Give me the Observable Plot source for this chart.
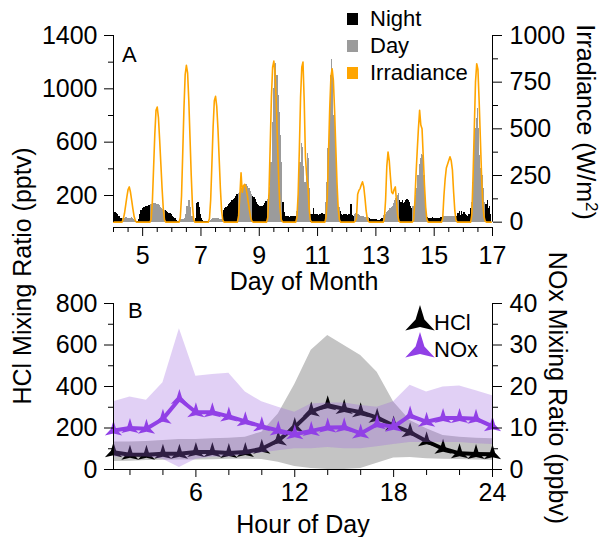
<!DOCTYPE html>
<html>
<head>
<meta charset="utf-8">
<script src="https://cdn.jsdelivr.net/npm/d3@7"></script>
<script src="https://cdn.jsdelivr.net/npm/@observablehq/plot@0.6"></script>
<style>
html, body { margin: 0; padding: 0; background: #fff; }
#chart { position: relative; width: 607px; height: 537px; overflow: hidden; background: #fff; }
#chart svg { position: absolute; left: 0; }
</style>
</head>
<body>
<div id="chart"></div>
<script>
// ---------------- Panel A data (hourly, starting day 4.0) ----------------
const startDay = 4;
const hclPptv = [
  70,72,70,66,60,45, 30,28,25,28,32,35, 30,28,30,32,28,22, 15,8,5,20,55,90,          // day 4
  100,108,112,116,120,124, 128,132,136,140,140,138, 135,130,122,112,104,96, 90,84,80,75,68,62, // day 5
  55,45,35,25,15,8, 3,15,22,18,20,30, 60,120,165,160,110,40, 20,10,30,140,150,110,    // day 6
  60,30,12,5,3,2, 2,8,15,22,27,30, 30,28,27,25,22,20, 40,90,100,110,120,130,          // day 7
  140,150,160,170,180,195, 205,215,225,240,255,270, 280,285,285,270,250,230, 205,190,185,170,150,135, // day 8
  125,118,115,118,125,140, 155,167,200,260,450,750, 1000,1180,1190,1100,950,820, 650,450,150,70,45,40, // day 9
  40,38,40,42,45,40, 45,80,150,250,450,590, 560,420,300,380,517,480, 250,60,60,100,60,55, // day 10
  55,50,55,60,65,60, 60,150,300,550,850,1100, 1220,1100,800,550,440,250, 110,80,55,50,55,60, // day 11
  55,50,55,60,130,50, 45,60,65,60,55,50, 45,42,40,38,36,35, 32,28,20,18,20,20,        // day 12
  20,18,15,15,20,25, 30,50,60,70,80,90, 100,110,120,140,160,180, 200,215,165,150,160,140, // day 13
  150,165,170,160,150,120, 100,120,150,200,250,350, 430,480,510,500,350,150, 60,35,30,28,30,35, // day 14
  30,30,30,28,30,30, 35,40,42,45,42,40, 40,42,45,45,42,40, 40,45,65,77,50,77,          // day 15
  60,70,55,50,45,60, 100,150,300,500,700,780, 850,700,500,400,350,250, 150,130,165,100,120,60 // day 16
];
const irradianceWm2 = [
  0,0,0,0,0,0, 0,0,15,45,90,135, 175,189,160,115,70,30, 8,0,0,0,0,0,        // day 4
  0,0,0,0,0,0, 0,15,110,290,470,600, 617,560,440,310,180,70, 12,0,0,0,0,0,  // day 5
  0,0,0,0,0,0, 0,25,140,370,610,790, 840,800,650,450,250,90, 15,0,0,0,0,0,  // day 6
  0,0,0,0,0,0, 0,20,120,310,510,650, 674,620,500,340,180,60, 10,0,0,0,0,0,  // day 7
  0,0,0,0,0,0, 0,35,140,264,160,195, 203,185,150,105,60,20, 5,0,0,0,0,0,    // day 8
  0,0,0,0,0,0, 0,25,160,410,670,830, 863,800,640,430,230,80, 15,3,0,0,0,0,  // day 9
  0,0,0,0,0,0, 0,25,150,390,670,830, 858,650,350,250,200,80, 12,0,0,0,0,0,  // day 10
  0,0,0,0,0,0, 0,25,140,370,610,780, 822,760,600,400,210,70, 12,0,0,0,0,0,  // day 11
  0,0,0,0,0,0, 0,5,20,150,170,180, 200,216,190,130,60,15, 3,0,0,0,0,0,      // day 12
  0,0,0,0,0,0, 0,20,120,300,376,330, 240,160,153,175,189,110, 35,5,0,0,0,0, // day 13
  0,0,0,0,0,0, 0,10,100,250,380,500, 599,520,500,350,200,80, 15,0,0,0,0,0,  // day 14
  0,0,0,0,0,0, 0,20,140,230,290,310, 330,350,330,280,160,60, 10,0,0,0,0,0,  // day 15
  0,0,0,0,0,0, 0,40,250,500,750,849, 820,650,450,250,100,30, 5,0,0,0,0,0    // day 16
];
const periodNames = ["Night", "Day"];
const dayTickLabels = [5, 7, 9, 11, 13, 15, 17];
const dayMinorTicks = [4, 4.5, 5.5, 6, 6.5, 7.5, 8, 8.5, 9.5, 10, 10.5, 11.5, 12, 12.5, 13.5, 14, 14.5, 15.5, 16, 16.5];
const hclTicksA = [200, 600, 1000, 1400];
const hclMinorA = [400, 800, 1200];
const irrTicks = [0, 250, 500, 750, 1000];
const irrMinor = [125, 375, 625, 875];

// ---------------- Panel B data (hour of day) ----------------
const hours = [1,2,3,4,5,6,7,8,9,10,11,12,13,14,15,16,17,18,19,20,21,22,23,24];
const hclMedian = [83,71,71,76,76,84,84,80,84,100,140,205,280,310,292,276,250,212,180,136,100,78,75,73];
const hclLow    = [39,40,43,45,46,46,47,50,50,48,35,15,5,0,0,5,30,55,58,52,50,48,46,45];
const hclHigh   = [132,132,135,140,145,145,148,151,156,180,268,410,575,646,598,550,469,325,236,196,164,156,151,148];
const noxMedian = [9.4,10.0,9.8,12.2,17.0,13.8,13.8,12.8,11.6,10.4,9.4,8.5,9.3,10.1,10.2,8.7,10.9,10.3,13.0,11.5,12.4,12.4,12.2,10.4];
const noxLow    = [3.0,3.0,3.0,2.5,0.5,2.5,3.0,3.0,3.5,4.0,4.5,5.0,5.0,5.3,5.0,5.0,5.5,6.0,6.5,6.5,6.5,6.5,6.2,6.0];
const noxHigh   = [16.3,17.5,16.7,20.9,33.9,22.5,22.9,23.2,18.7,16.3,15.0,13.8,15.8,16.0,16.0,15.4,15.0,16.3,20.3,18.7,19.9,20.1,19.0,17.8];
const hourTickLabels = [6, 12, 18, 24];
const hourMinorTicks = [2, 4, 8, 10, 14, 16, 20, 22];
const hclTicksB = [0, 200, 400, 600, 800];
const hclMinorB = [100, 300, 500, 700];
const noxTicks = [0, 10, 20, 30, 40];
const noxMinor = [5, 15, 25, 35];
const seriesNames = ["HCl", "NOx"];

// ---------------- styling ----------------
const FONT = '"Liberation Sans", Arial, Helvetica, sans-serif';
const COL = {night: "#000000", day: "#9b9b9b", irr: "#ffa500", band: "#c4c4c4", lav: "#9b62de", nox: "#9140e6"};
const IRR_TO_LEFT = 1400 / 1000;   // right axis (W/m2) -> left axis (pptv) units
const NOX_TO_LEFT = 800 / 40;      // right axis (ppbv) -> left axis (pptv) units
const plain = d => String(Math.round(d));

const star = {
  draw(ctx, size) {
    const R = Math.sqrt(size / Math.PI);
    const r = R * 0.3;
    const pts = [];
    for (let k = 0; k < 3; k++) {
      const a = -Math.PI / 2 + k * 2 * Math.PI / 3;
      const b = a + Math.PI / 3;
      pts.push([R * Math.cos(a), R * Math.sin(a)]);
      pts.push([r * Math.cos(b), r * Math.sin(b)]);
    }
    ctx.moveTo(pts[0][0], pts[0][1]);
    for (let k = 1; k < pts.length; k++) ctx.lineTo(pts[k][0], pts[k][1]);
    ctx.closePath();
  }
};

const baseStyle = {fontFamily: FONT, fontSize: "25px", color: "#000", background: "transparent", overflow: "visible"};

// ---------------- Panel A ----------------
const rowsA = hclPptv.map((v, i) => ({
  t: startDay + i / 24,
  hcl: v,
  irr: irradianceWm2[i],
  period: irradianceWm2[i] > 0 ? periodNames[1] : periodNames[0]
}));

const plotA = Plot.plot({
  width: 607, height: 290,
  marginTop: 35, marginBottom: 63, marginLeft: 113, marginRight: 115,
  x: {domain: [4, 17]},
  y: {domain: [-40, 1400]},
  color: {domain: periodNames, range: [COL.night, COL.day]},
  style: baseStyle,
  marks: [
    Plot.rect(rowsA, {x1: d => d.t - 1/48, x2: d => d.t + 1/48, y1: 0, y2: "hcl", fill: "period", clip: true, shapeRendering: "crispEdges"}),
    Plot.lineY(rowsA, {x: "t", y: d => d.irr * IRR_TO_LEFT, stroke: COL.irr, strokeWidth: 1.6, clip: true}),
    Plot.ruleX([4], {y1: 0, y2: 1400, stroke: "#000"}),
    Plot.ruleX([17], {y1: 0, y2: 1400, stroke: "#000"}),
    Plot.ruleY([-40], {x1: 4, x2: 17, stroke: "#000"}),
    Plot.axisY(hclTicksA, {anchor: "left", tickSize: 9, tickPadding: 7, fontSize: 25, tickFormat: plain, label: null}),
    Plot.axisY(hclMinorA, {anchor: "left", tickSize: 5, tickFormat: () => "", label: null}),
    Plot.axisY(irrTicks.map(v => v * IRR_TO_LEFT), {anchor: "right", tickSize: 9, tickPadding: 8, fontSize: 25, tickFormat: v => plain(v / IRR_TO_LEFT), label: null}),
    Plot.axisY(irrMinor.map(v => v * IRR_TO_LEFT), {anchor: "right", tickSize: 5, tickFormat: () => "", label: null}),
    Plot.axisX(dayTickLabels, {anchor: "bottom", tickSize: 9, tickPadding: 10, fontSize: 25, tickFormat: plain, label: null}),
    Plot.axisX(dayMinorTicks, {anchor: "bottom", tickSize: 5, tickFormat: () => "", label: null})
  ]
});

// ---------------- Panel B ----------------
const rowsB = hours.map((h, i) => ({
  h, hcl: hclMedian[i], hclLo: hclLow[i], hclHi: hclHigh[i],
  nox: noxMedian[i], noxLo: noxLow[i], noxHi: noxHigh[i]
}));

const plotB = Plot.plot({
  width: 607, height: 252,
  marginTop: 18, marginBottom: 68, marginLeft: 113, marginRight: 115,
  x: {domain: [1, 24]},
  y: {domain: [0, 800]},
  style: baseStyle,
  marks: [
    Plot.areaY(rowsB, {x: "h", y1: "hclLo", y2: "hclHi", fill: COL.band}),
    Plot.lineY(rowsB, {x: "h", y: "hcl", stroke: "#000", strokeWidth: 4, strokeLinejoin: "round"}),
    Plot.dot(rowsB, {x: "h", y: "hcl", symbol: star, r: 10, fill: "#000", stroke: "none"}),
    Plot.areaY(rowsB, {x: "h", y1: d => d.noxLo * NOX_TO_LEFT, y2: d => d.noxHi * NOX_TO_LEFT, fill: COL.lav, fillOpacity: 0.3}),
    Plot.lineY(rowsB, {x: "h", y: d => d.nox * NOX_TO_LEFT, stroke: COL.nox, strokeWidth: 4, strokeLinejoin: "round"}),
    Plot.dot(rowsB, {x: "h", y: d => d.nox * NOX_TO_LEFT, symbol: star, r: 10, fill: COL.nox, stroke: "none"}),
    Plot.ruleX([1], {y1: 0, y2: 800, stroke: "#000"}),
    Plot.ruleX([24], {y1: 0, y2: 800, stroke: "#000"}),
    Plot.ruleY([0], {x1: 1, x2: 24, stroke: "#000"}),
    Plot.axisY(hclTicksB, {anchor: "left", tickSize: 9, tickPadding: 7, fontSize: 25, tickFormat: plain, label: null}),
    Plot.axisY(hclMinorB, {anchor: "left", tickSize: 5, tickFormat: () => "", label: null}),
    Plot.axisY(noxTicks.map(v => v * NOX_TO_LEFT), {anchor: "right", tickSize: 9, tickPadding: 8, fontSize: 25, tickFormat: v => plain(v / NOX_TO_LEFT), label: null}),
    Plot.axisY(noxMinor.map(v => v * NOX_TO_LEFT), {anchor: "right", tickSize: 5, tickFormat: () => "", label: null}),
    Plot.axisX(hourTickLabels, {anchor: "bottom", tickSize: 8, tickPadding: 6, fontSize: 25, tickFormat: plain, label: null}),
    Plot.axisX(hourMinorTicks, {anchor: "bottom", tickSize: 6, tickFormat: () => "", label: null})
  ]
});

// ---------------- Titles, panel letters and legends ----------------
const ov = d3.create("svg").attr("width", 607).attr("height", 537)
  .style("font-family", FONT).style("top", "0px").style("pointer-events", "none");

ov.append("text").attr("x", 304).attr("y", 290).attr("text-anchor", "middle").attr("font-size", 25).text("Day of Month");
ov.append("text").attr("x", 303).attr("y", 533).attr("text-anchor", "middle").attr("font-size", 25).text("Hour of Day");
ov.append("text").attr("transform", "translate(31,276) rotate(-90)").attr("text-anchor", "middle").attr("font-size", 25).text("HCl Mixing Ratio (pptv)");
const irrTitle = ov.append("text").attr("transform", "translate(577,122) rotate(90)").attr("text-anchor", "middle").attr("font-size", 25);
irrTitle.append("tspan").text("Irradiance (W/m");
irrTitle.append("tspan").attr("font-size", 17).attr("dy", -9).text("2");
irrTitle.append("tspan").attr("dy", 9).text(")");
ov.append("text").attr("transform", "translate(549,388) rotate(90)").attr("text-anchor", "middle").attr("font-size", 25).text("NOx Mixing Ratio (ppbv)");

ov.append("text").attr("x", 122).attr("y", 62).attr("font-size", 22).text("A");
ov.append("text").attr("x", 128).attr("y", 318).attr("font-size", 22).text("B");

const legA = [
  {label: periodNames[0], color: COL.night, y: 13},
  {label: periodNames[1], color: COL.day, y: 40},
  {label: "Irradiance", color: COL.irr, y: 67}
];
legA.forEach(d => {
  ov.append("rect").attr("x", 347).attr("y", d.y).attr("width", 11).attr("height", 12).attr("fill", d.color);
  ov.append("text").attr("x", 370).attr("y", d.y + 13).attr("font-size", 22).text(d.label);
});

const legB = [
  {label: seriesNames[0], color: "#000", cy: 322},
  {label: seriesNames[1], color: COL.nox, cy: 349}
];
const starPath = d3.symbol(star, Math.PI * 17 * 17)();
legB.forEach(d => {
  ov.append("path").attr("d", starPath).attr("transform", `translate(420,${d.cy})`).attr("fill", d.color);
  ov.append("text").attr("x", 434).attr("y", d.cy + 8).attr("font-size", 22).text(d.label);
});

const chart = document.getElementById("chart");
plotA.style.top = "0px";
plotB.style.top = "285px";
chart.appendChild(plotA);
chart.appendChild(plotB);
chart.appendChild(ov.node());
</script>
</body>
</html>
